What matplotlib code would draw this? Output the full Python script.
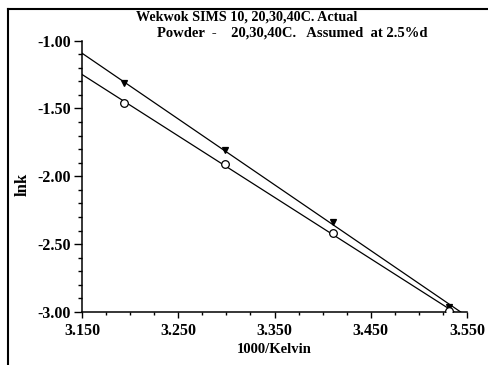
import numpy as np
import matplotlib
matplotlib.use("Agg")
import matplotlib.pyplot as plt
from matplotlib.lines import Line2D

# Data
temps_c = [40, 30, 20, 10]
inv_kelvin = [1000.0 / (t + 273.15) for t in temps_c]
actual_lnk = [-1.315, -1.81, -2.335, -2.96]     # filled triangles
powder_lnk = [-1.460, -1.91, -2.420, -2.99]     # open circles
x_ticks = [3.150, 3.250, 3.350, 3.450, 3.550]
y_ticks = [-3.00, -2.50, -2.00, -1.50, -1.00]
title_lines = ["Wekwok SIMS 10, 20,30,40C. Actual",
               "Powder  -    20,30,40C.   Assumed  at 2.5%d"]

plt.rcParams['font.family'] = ['Liberation Serif', 'DejaVu Serif']

fig = plt.figure(figsize=(4.88, 3.65), dpi=100)
ax = fig.add_axes([82/488, 1-312/365, (467-82)/488, (312-40.5)/365])

xfit = np.array([x_ticks[0], x_ticks[-1]])
for ys, mk, mfc in [(actual_lnk, 'v', 'black'), (powder_lnk, 'o', 'white')]:
    p = np.polyfit(inv_kelvin, ys, 1)
    ax.plot(xfit, np.polyval(p, xfit), color='black', lw=0.9, zorder=2)
    ax.plot(inv_kelvin, ys, linestyle='none', marker=mk, markersize=5.5 if mk == 'o' else 5,
            markerfacecolor=mfc, markeredgecolor='black', markeredgewidth=0.9, zorder=3)

ax.set_xlim(x_ticks[0], x_ticks[-1])
ax.set_ylim(y_ticks[0], y_ticks[-1])
ax.set_xticks(x_ticks)
ax.set_xticklabels([f"{v:.3f}" for v in x_ticks], fontsize=11.5, fontweight='bold')
ax.set_yticks(y_ticks)
ax.set_yticklabels([f"{v:.2f}" for v in y_ticks], fontsize=11.5, fontweight='bold')
ax.set_xticks(np.arange(3.150, 3.5501, 0.025), minor=True)
ax.set_yticks(np.arange(-3.0, -0.999, 0.1), minor=True)
ax.tick_params(axis='y', which='major', length=6, width=1, pad=2)
ax.tick_params(axis='y', which='minor', length=3, width=1)
ax.tick_params(axis='x', which='major', length=4, width=1, pad=4)
ax.tick_params(axis='x', which='minor', length=2.5, width=1)
for s in ['top', 'right']:
    ax.spines[s].set_visible(False)
for s in ['left', 'bottom']:
    ax.spines[s].set_linewidth(1.1)

ax.set_xlabel("1000/Kelvin", fontsize=10.5, fontweight='bold', labelpad=3)
fig.text(23/488, 1-184/365, "lnk", rotation=90, fontsize=12, fontweight='bold',
         ha='center', va='center')

fig.text(136/488, 1-17/365, title_lines[0], fontsize=10.2, fontweight='bold', ha='left', va='center')
fig.text(157/488, 1-33/365, title_lines[1], fontsize=10.5, fontweight='bold', ha='left', va='center')

# outer frame (left and top edges)
fig.add_artist(Line2D([8/488, 8/488], [0, 1-9/365], color='black', lw=1.5, transform=fig.transFigure))
fig.add_artist(Line2D([8/488, 1], [1-9/365, 1-9/365], color='black', lw=1.5, transform=fig.transFigure))

fig.savefig("out.png", dpi=100)
